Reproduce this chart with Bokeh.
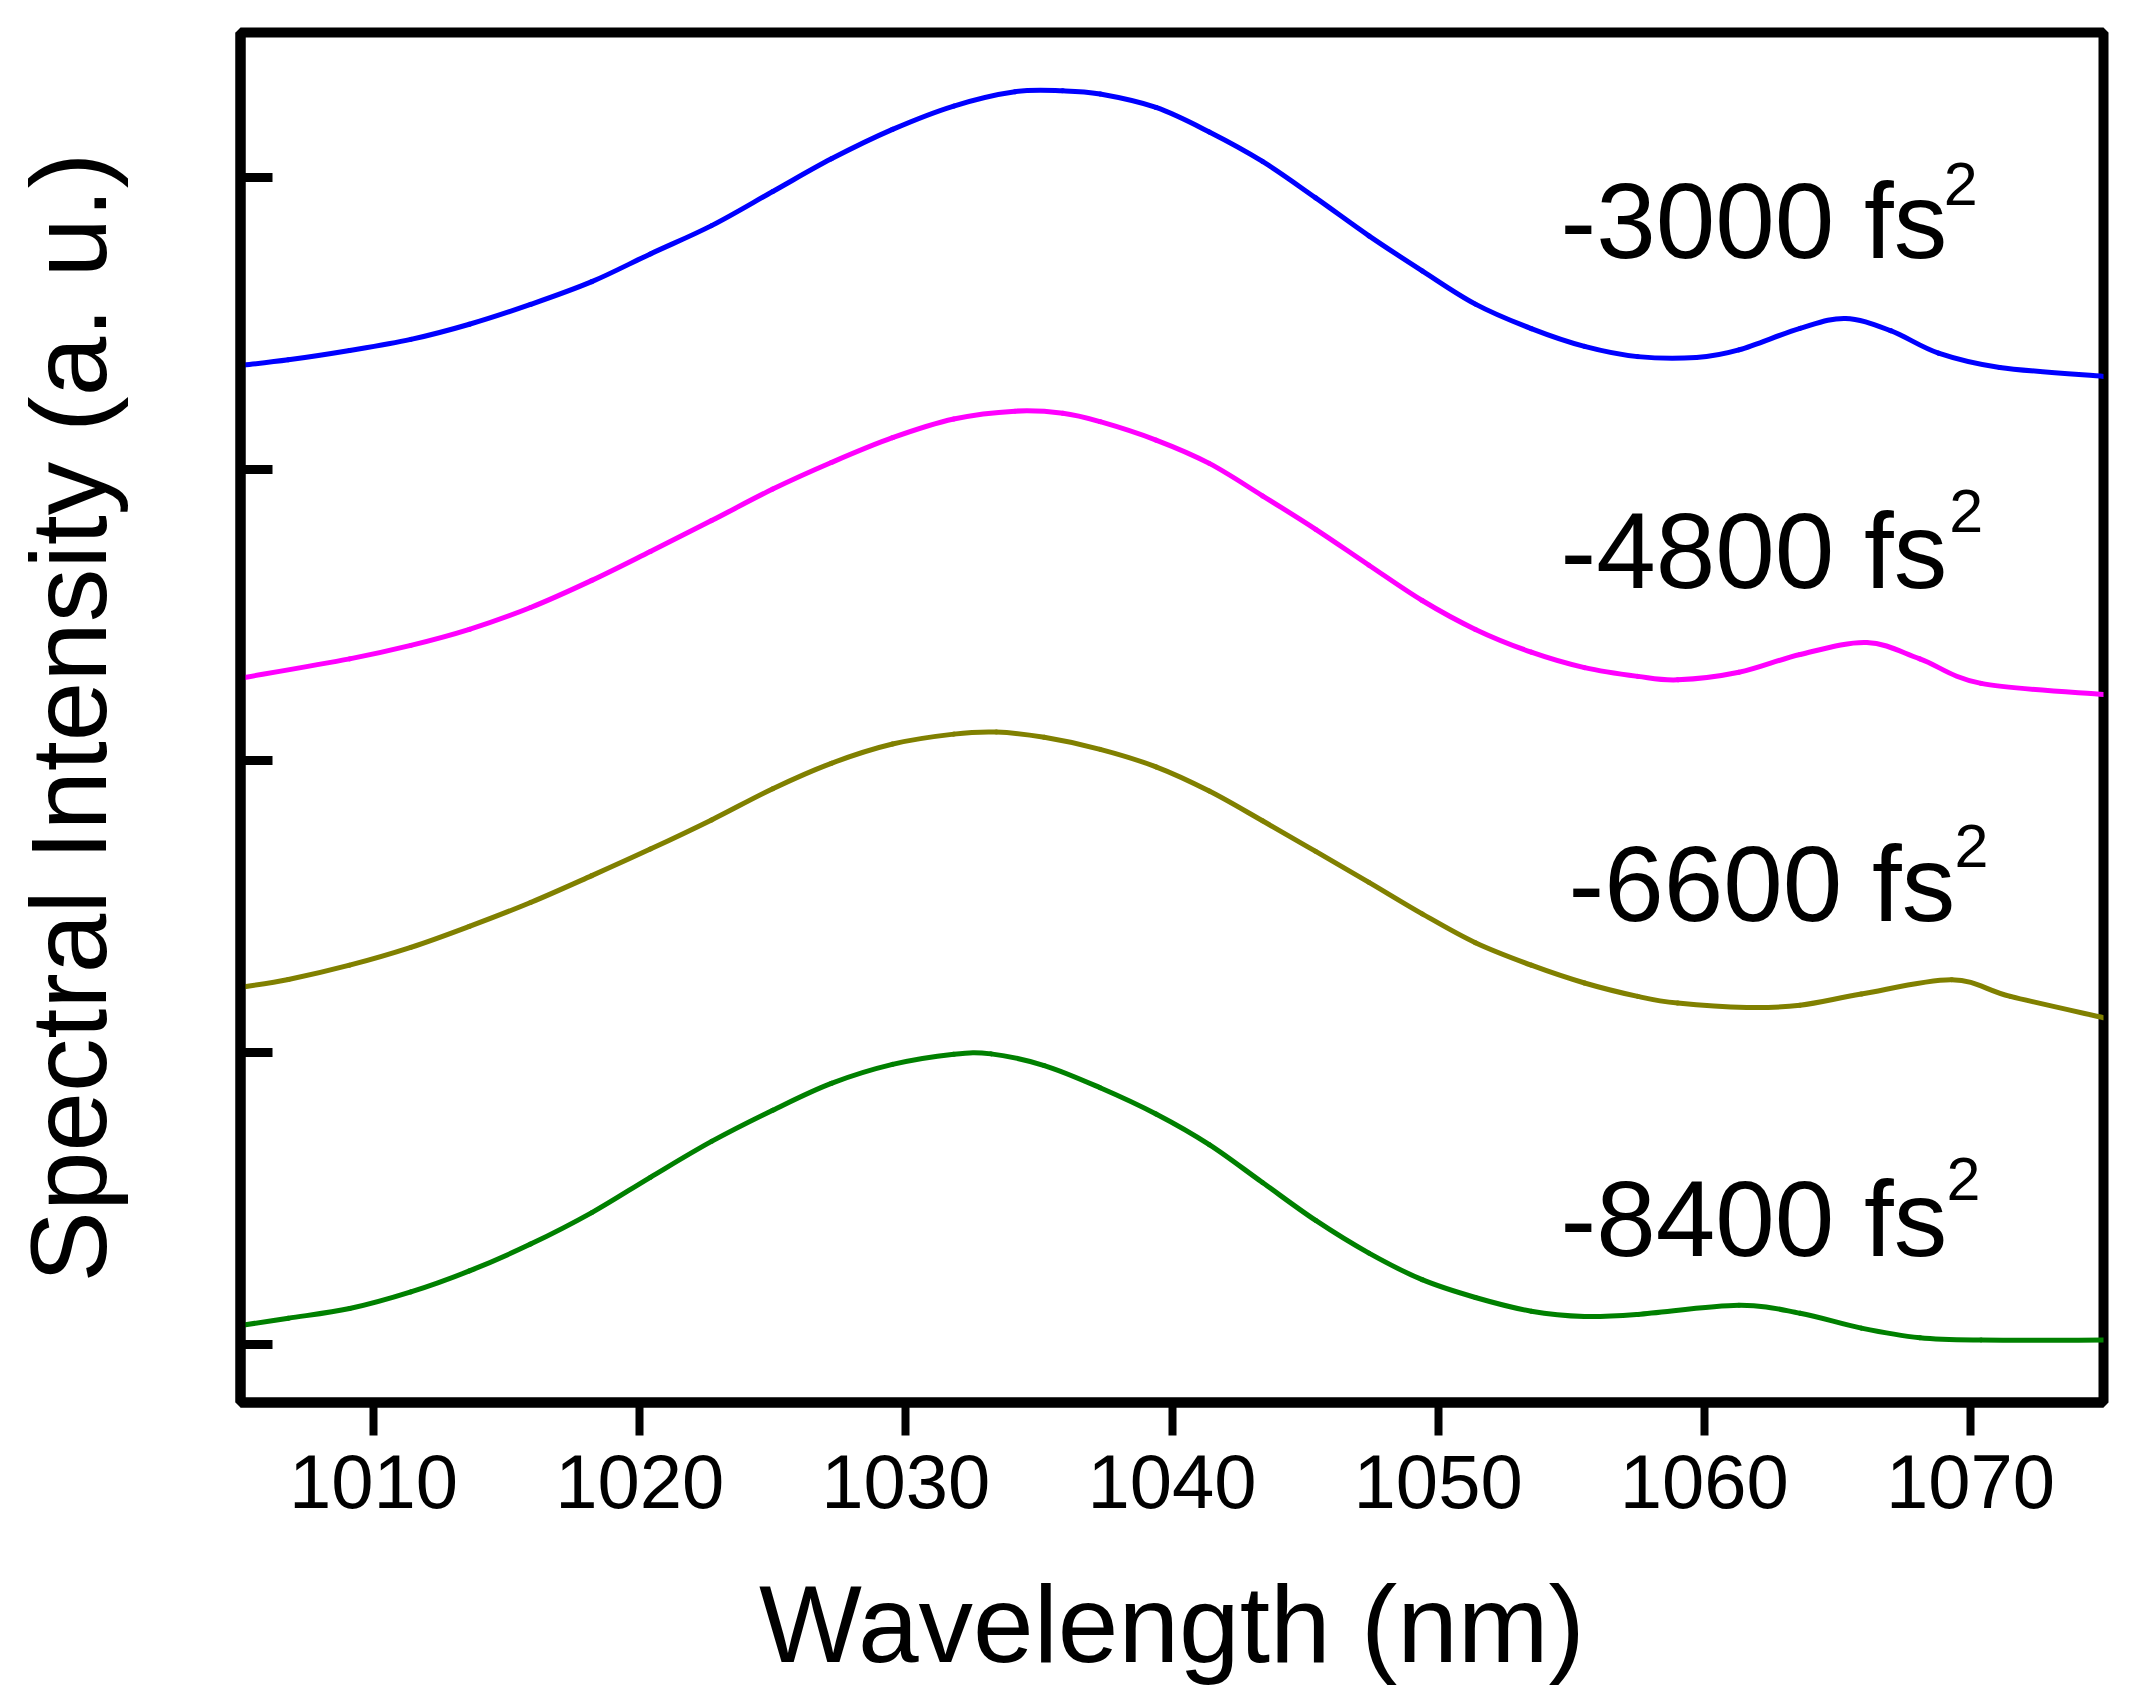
import numpy as np
from bokeh.plotting import figure
from bokeh.models import Label, Range1d, FixedTicker
from bokeh.embed import file_html
from bokeh.resources import INLINE

# wavelength (nm) / spectral intensity (a.u., curves offset vertically)
wl_3000 = [1005, 1006.8, 1009.1, 1011.4, 1013.6, 1015.9, 1018.2, 1020.4, 1022.7, 1025.0,
           1027.2, 1029.5, 1031.8, 1034.1, 1035.9, 1037.3, 1039.4, 1041.4, 1043.4, 1045.4,
           1047.4, 1049.4, 1051.4, 1053.5, 1055.5, 1057.5, 1059.7, 1061.3, 1063.6, 1065.3,
           1067.0, 1068.8, 1071.1, 1075]
int_3000 = [3.356, 3.375, 3.407, 3.445, 3.497, 3.565, 3.643, 3.738, 3.835, 3.952,
            4.064, 4.165, 4.245, 4.294, 4.297, 4.286, 4.240, 4.156, 4.055, 3.930,
            3.800, 3.680, 3.566, 3.482, 3.421, 3.386, 3.383, 3.409, 3.483, 3.517,
            3.475, 3.398, 3.349, 3.318]

wl_4800 = [1005, 1009.1, 1011.4, 1013.6, 1015.9, 1018.2, 1020.4, 1022.7, 1025.0, 1027.2,
           1029.5, 1031.8, 1034.1, 1035.9, 1037.3, 1039.4, 1041.4, 1043.4, 1045.4, 1047.4,
           1049.4, 1051.4, 1053.5, 1055.5, 1057.5, 1059.0, 1061.3, 1063.6, 1066.1, 1068.1,
           1070.4, 1075]
int_4800 = [2.284, 2.350, 2.396, 2.451, 2.526, 2.619, 2.718, 2.824, 2.932, 3.023,
            3.108, 3.172, 3.199, 3.192, 3.163, 3.100, 3.020, 2.909, 2.794, 2.671,
            2.550, 2.451, 2.373, 2.320, 2.290, 2.278, 2.304, 2.365, 2.406, 2.350,
            2.266, 2.228]

wl_6600 = [1005, 1006.8, 1009.1, 1011.4, 1013.6, 1015.9, 1018.2, 1020.4, 1022.7, 1025.0,
           1027.2, 1029.5, 1031.8, 1033.4, 1035.2, 1037.3, 1039.4, 1041.4, 1043.4, 1045.4,
           1047.4, 1049.4, 1051.4, 1053.5, 1055.5, 1057.5, 1059.0, 1061.6, 1063.6, 1065.9,
           1069.3, 1071.5, 1075]
int_6600 = [1.224, 1.251, 1.300, 1.361, 1.433, 1.515, 1.607, 1.698, 1.798, 1.905,
            1.992, 2.058, 2.092, 2.099, 2.081, 2.040, 1.980, 1.897, 1.795, 1.690,
            1.584, 1.476, 1.377, 1.300, 1.239, 1.193, 1.170, 1.155, 1.163, 1.201,
            1.250, 1.193, 1.120]

wl_8400 = [1005, 1006.8, 1009.1, 1011.4, 1013.6, 1015.9, 1018.2, 1020.4, 1022.7, 1025.0,
           1027.2, 1029.5, 1031.8, 1033.2, 1035.2, 1037.3, 1039.4, 1041.4, 1043.4, 1045.4,
           1047.4, 1049.4, 1051.4, 1053.5, 1055.5, 1057.5, 1061.3, 1063.6, 1065.9, 1068.1,
           1070.4, 1075]
int_8400 = [0.065, 0.090, 0.123, 0.180, 0.252, 0.344, 0.452, 0.573, 0.696, 0.803,
            0.895, 0.960, 0.995, 0.996, 0.956, 0.880, 0.790, 0.685, 0.555, 0.425,
            0.313, 0.222, 0.161, 0.114, 0.096, 0.103, 0.134, 0.107, 0.056, 0.023,
            0.015, 0.015]

labels = ["-3000 fs", "-4800 fs", "-6600 fs", "-8400 fs"]
colors = ["#0000FF", "#FF00FF", "#808000", "#008000"]
x_ticks = [1010, 1020, 1030, 1040, 1050, 1060, 1070]
y_ticks = [0, 1, 2, 3, 4]

# label anchors (wavelength, intensity) for main text and superscript "2"
label_pos = [(1054.6, 3.850), (1054.6, 2.720), (1054.9, 1.578), (1054.6, 0.430)]
sup_pos = [(1069.0, 3.977), (1069.2, 2.856), (1069.4, 1.709), (1069.1, 0.566)]

FONT = "Liberation Sans"


def smooth_segments(xs, ys):
    # Catmull-Rom through the read points, as cubic bezier pieces
    x = np.asarray(xs, float)
    y = np.asarray(ys, float)
    xp = np.concatenate([[x[0]], x, [x[-1]]])
    yp = np.concatenate([[y[0]], y, [y[-1]]])
    return dict(
        x0=x[:-1], y0=y[:-1], x1=x[1:], y1=y[1:],
        cx0=x[:-1] + (xp[2:-1] - xp[:-3]) / 6, cy0=y[:-1] + (yp[2:-1] - yp[:-3]) / 6,
        cx1=x[1:] - (xp[3:] - xp[1:-2]) / 6, cy1=y[1:] - (yp[3:] - yp[1:-2]) / 6,
    )


p = figure(frame_width=1863, frame_height=1370,
           min_border_left=240, min_border_top=32, min_border_right=19, min_border_bottom=282,
           x_range=Range1d(1005, 1075), y_range=Range1d(-0.199, 4.497),
           output_backend="svg", toolbar_location=None)
p.grid.visible = False
p.outline_line_color = "black"
p.outline_line_width = 10
p.background_fill_color = "white"
p.border_fill_color = "white"

series = [(wl_3000, int_3000), (wl_4800, int_4800), (wl_6600, int_6600), (wl_8400, int_8400)]
for (xs, ys), c in zip(series, colors):
    p.bezier(**smooth_segments(xs, ys), line_color=c, line_width=5, line_cap="round")

for txt, (lx, ly), (sx, sy) in zip(labels, label_pos, sup_pos):
    p.add_layout(Label(x=lx, y=ly, text=txt, text_font=FONT, text_font_size="107px",
                       text_color="black", text_baseline="alphabetic", text_align="left"))
    p.add_layout(Label(x=sx, y=sy, text="2", text_font=FONT, text_font_size="61px",
                       text_color="black", text_baseline="alphabetic", text_align="left"))

xa = p.xaxis[0]
xa.ticker = FixedTicker(ticks=x_ticks)
xa.axis_line_color = "black"
xa.axis_line_width = 10
xa.major_tick_line_width = 8
xa.major_tick_in = 0
xa.major_tick_out = 33
xa.minor_tick_line_color = None
xa.major_label_text_font = FONT
xa.major_label_text_font_size = "76px"
xa.major_label_text_color = "black"
xa.major_label_standoff = 19
xa.axis_label = "Wavelength (nm)"
xa.axis_label_text_font = FONT
xa.axis_label_text_font_size = "109px"
xa.axis_label_text_font_style = "normal"
xa.axis_label_text_color = "black"
xa.axis_label_standoff = 52

ya = p.yaxis[0]
ya.ticker = FixedTicker(ticks=y_ticks)
ya.axis_line_color = "black"
ya.axis_line_width = 10
ya.major_tick_line_width = 9
ya.major_tick_in = 32
ya.major_tick_out = 0
ya.minor_tick_line_color = None
ya.major_label_overrides = {t: "" for t in y_ticks}
ya.axis_label = "Spectral Intensity (a. u.)"
ya.axis_label_text_font = FONT
ya.axis_label_text_font_size = "107px"
ya.axis_label_text_font_style = "normal"
ya.axis_label_text_color = "black"
ya.axis_label_standoff = 112

open("out.html", "w").write(file_html(p, INLINE))
